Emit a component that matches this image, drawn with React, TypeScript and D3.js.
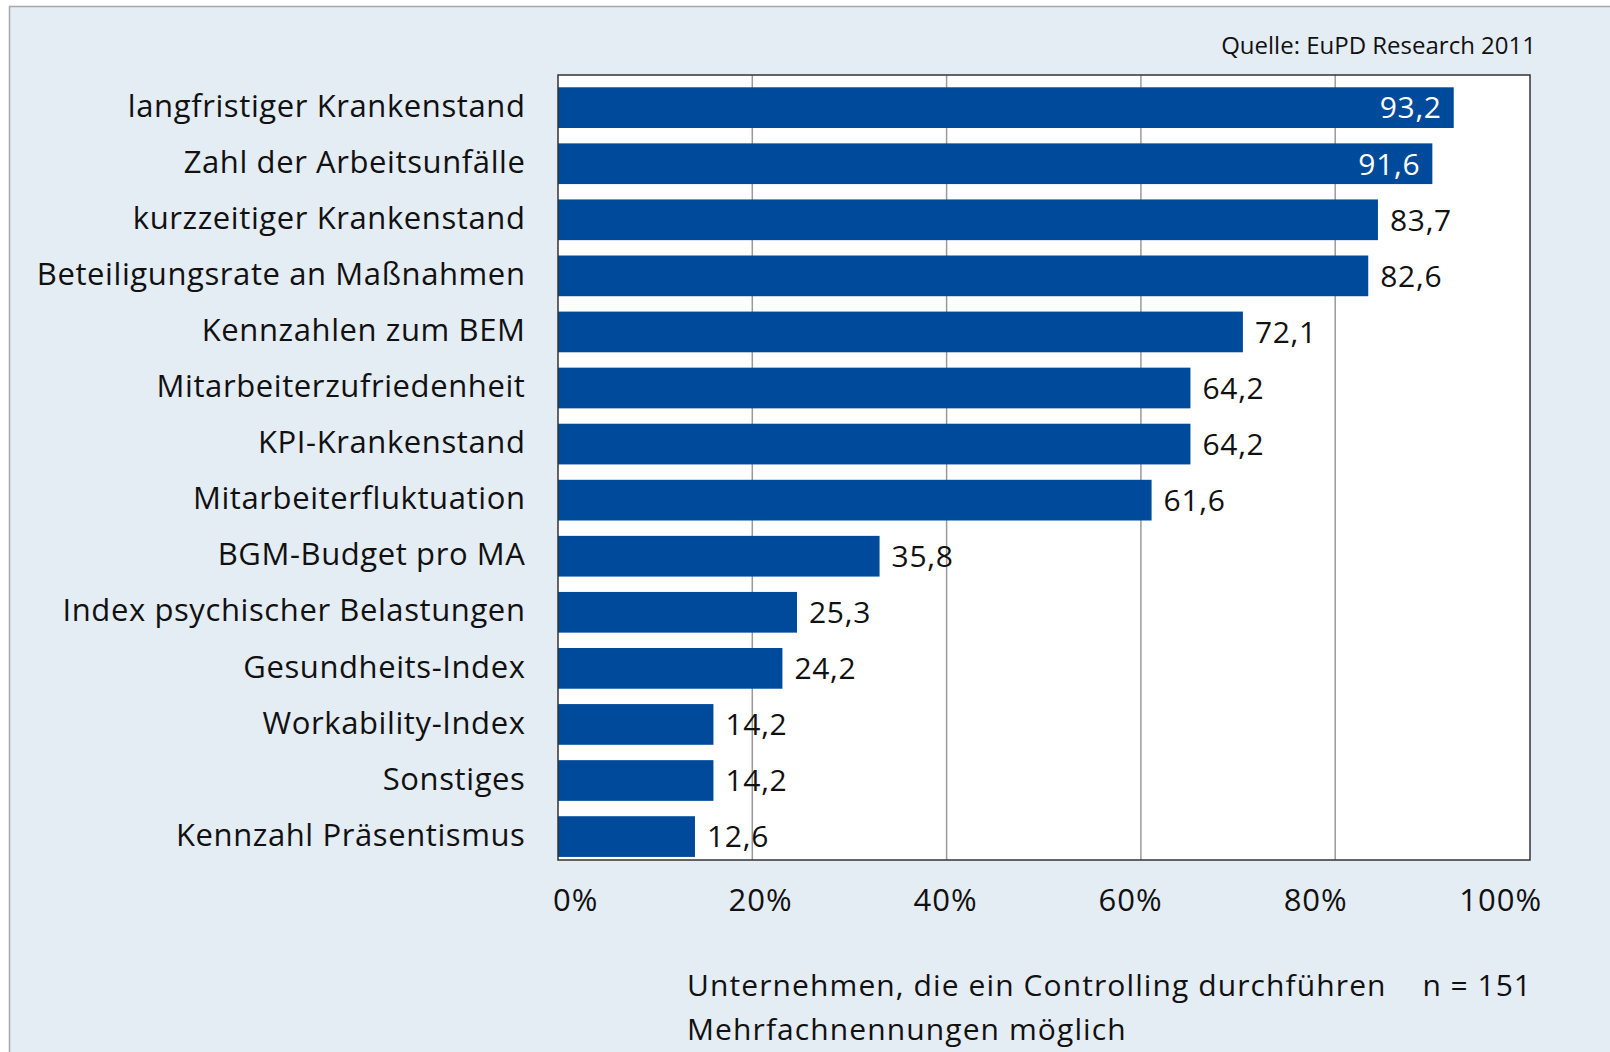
import React from "react";
import * as d3 from "d3";

const categories = [
  "langfristiger Krankenstand",
  "Zahl der Arbeitsunfälle",
  "kurzzeitiger Krankenstand",
  "Beteiligungsrate an Maßnahmen",
  "Kennzahlen zum BEM",
  "Mitarbeiterzufriedenheit",
  "KPI-Krankenstand",
  "Mitarbeiterfluktuation",
  "BGM-Budget pro MA",
  "Index psychischer Belastungen",
  "Gesundheits-Index",
  "Workability-Index",
  "Sonstiges",
  "Kennzahl Präsentismus",
];

// bar lengths as drawn in the picture (percent)
const barValues = [92.2, 90.0, 84.4, 83.4, 70.5, 65.1, 65.1, 61.1, 33.1, 24.6, 23.1, 16.0, 16.0, 14.1];

// value labels as printed
const valueLabels = ["93,2", "91,6", "83,7", "82,6", "72,1", "64,2", "64,2", "61,6", "35,8", "25,3", "24,2", "14,2", "14,2", "12,6"];

const gridValues = [20, 40, 60, 80];
const tickLabels = ["0%", "20%", "40%", "60%", "80%", "100%"];

const sourceText = "Quelle: EuPD Research 2011";
const noteLine1 = "Unternehmen, die ein Controlling durchführen";
const noteN = "n = 151";
const noteLine2 = "Mehrfachnennungen möglich";

const W = 1610;
const H = 1052;
const FONT = "'Open Sans', 'Noto Sans', sans-serif";
const BAR = "#004a9b";
const BG = "#e4ecf4";

export default function App() {
  const plot = { left: 558, right: 1530, top: 75, bottom: 860 };
  const x = d3.scaleLinear().domain([0, 100]).range([plot.left, 1529.5]);
  const y = d3
    .scaleBand<string>()
    .domain(categories)
    .range([plot.top, plot.bottom])
    .paddingInner(0.274)
    .paddingOuter(0.137)
    .align(0.8);
  const tickX = d3.scalePoint<string>().domain(tickLabels).range([575.6, 1500.7]);
  const bw = y.bandwidth();

  return (
    <svg
      width={W}
      height={H}
      style={{ position: "absolute", left: 0, top: 0, display: "block" }}
      fontFamily={FONT}
    >
      <rect x={0} y={0} width={W} height={H} fill="#ffffff" />
      <rect x={9} y={6} width={W} height={H} fill={BG} />
      <line x1={9} y1={6.5} x2={W} y2={6.5} stroke="#a8a8a8" strokeWidth={1.5} />
      <line x1={9.5} y1={6} x2={9.5} y2={H} stroke="#a8a8a8" strokeWidth={1.5} />

      <text x={1536} y={54} textAnchor="end" fontSize={24} fill="#111">
        {sourceText}
      </text>

      <rect
        x={plot.left}
        y={plot.top}
        width={plot.right - plot.left}
        height={plot.bottom - plot.top}
        fill="#ffffff"
      />
      {gridValues.map((g) => (
        <line
          key={g}
          x1={x(g)}
          x2={x(g)}
          y1={plot.top}
          y2={plot.bottom}
          stroke="#9a9a9a"
          strokeWidth={1.5}
        />
      ))}

      {categories.map((c, i) => {
        const v = barValues[i];
        const yb = y(c)!;
        const cy = yb + bw / 2;
        const inside = v > 88;
        return (
          <g key={c}>
            <rect x={x(0)} y={yb} width={x(v) - x(0)} height={bw} fill={BAR} />
            <text
              x={inside ? x(v) - 12 : x(v) + 12}
              y={cy}
              dy="0.36em"
              textAnchor={inside ? "end" : "start"}
              fontSize={30}
              letterSpacing={0.7}
              fill={inside ? "#ffffff" : "#111"}
            >
              {valueLabels[i]}
            </text>
            <text
              x={525.5}
              y={cy - 2}
              dy="0.36em"
              textAnchor="end"
              fontSize={31}
              letterSpacing={0.6}
              fill="#111"
            >
              {c}
            </text>
          </g>
        );
      })}

      <rect
        x={plot.left}
        y={plot.top}
        width={plot.right - plot.left}
        height={plot.bottom - plot.top}
        fill="none"
        stroke="#333"
        strokeWidth={1.5}
      />

      {tickLabels.map((t) => (
        <text
          key={t}
          x={tickX(t)}
          y={911}
          textAnchor="middle"
          fontSize={31}
          letterSpacing={1}
          fill="#111"
        >
          {t}
        </text>
      ))}

      <text x={687} y={996} fontSize={30} letterSpacing={1.1} fill="#111">
        {noteLine1}
      </text>
      <text x={1532} y={996} textAnchor="end" fontSize={30} letterSpacing={1} fill="#111">
        {noteN}
      </text>
      <text x={687} y={1040} fontSize={30} letterSpacing={1.1} fill="#111">
        {noteLine2}
      </text>
    </svg>
  );
}
